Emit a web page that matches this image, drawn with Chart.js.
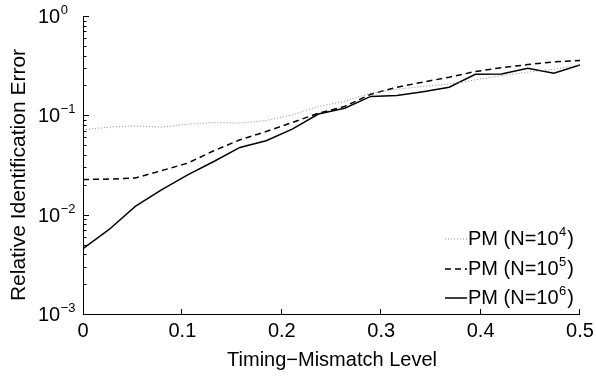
<!DOCTYPE html>
<html>
<head>
<meta charset="utf-8">
<script src="https://cdn.jsdelivr.net/npm/chart.js@4.4.0/dist/chart.umd.min.js"></script>
<style>
html,body{margin:0;padding:0;background:#fff;}
#wrap{width:596px;height:379px;position:relative;}
</style>
</head>
<body>
<div id="wrap"><canvas id="c" width="596" height="379"></canvas></div>
<script>
// Timing-mismatch levels (x)
const mismatchLevels = [0, 0.0263, 0.0526, 0.0789, 0.1053, 0.1316, 0.1579, 0.1842, 0.2105, 0.2368,
  0.2632, 0.2895, 0.3158, 0.3421, 0.3684, 0.3947, 0.4211, 0.4474, 0.4737, 0.5];
// Relative identification error for each N
const errN1e4 = [0.0715, 0.076, 0.0784, 0.076, 0.0815, 0.0847, 0.0835, 0.0887, 0.101, 0.123,
  0.138, 0.167, 0.183, 0.195, 0.207, 0.227, 0.251, 0.272, 0.291, 0.322];
const errN1e5 = [0.0226, 0.0228, 0.0234, 0.0277, 0.033, 0.044, 0.0567, 0.0687, 0.0847, 0.105,
  0.123, 0.163, 0.192, 0.216, 0.242, 0.276, 0.302, 0.324, 0.345, 0.356];
const errN1e6 = [0.00455, 0.0071, 0.0121, 0.0178, 0.0252, 0.0343, 0.0475, 0.0555, 0.0726, 0.103,
  0.118, 0.155, 0.158, 0.173, 0.192, 0.259, 0.261, 0.298, 0.266, 0.322];
// Axis ticks
const xTicks = [0, 0.1, 0.2, 0.3, 0.4, 0.5];
const yDecades = [0, -1, -2, -3];
// Labels
const seriesNames = ["PM (N=10", "PM (N=10", "PM (N=10"];
const seriesExps = ["4", "5", "6"];
const xTitle = "Timing\u2212Mismatch Level";
const yTitle = "Relative Identification Error";

const FONT = '"Liberation Sans", Arial, Helvetica, sans-serif';

const styles = [
  {color: '#8c8c8c', width: 1, dash: [1, 2]},
  {color: '#000000', width: 1.5, dash: [6, 4]},
  {color: '#000000', width: 1.5, dash: []}
];
const seriesData = [errN1e4, errN1e5, errN1e6];

function pts(arr){ return mismatchLevels.map((x, i) => ({x: x, y: arr[i]})); }

const decor = {
  id: 'decor',
  beforeDraw(chart){
    const ctx = chart.ctx;
    ctx.save(); ctx.fillStyle = '#fff'; ctx.fillRect(0, 0, chart.width, chart.height); ctx.restore();
  },
  afterDraw(chart){
    const ctx = chart.ctx;
    const xs = chart.scales.x, ys = chart.scales.y;
    const L = xs.left, R = xs.right, T = ys.top, B = ys.bottom;
    ctx.save();
    ctx.strokeStyle = '#000'; ctx.lineWidth = 1; ctx.setLineDash([]);
    // axis lines
    ctx.beginPath();
    ctx.moveTo(L + 0.5, T); ctx.lineTo(L + 0.5, B + 0.5); ctx.lineTo(R, B + 0.5);
    ctx.stroke();
    // x ticks (inward)
    ctx.beginPath();
    xTicks.forEach(v => {
      const px = Math.round(xs.getPixelForValue(v)) - 0.5;
      if (v > 0) { ctx.moveTo(px, B); ctx.lineTo(px, B - 5); }
    });
    // y ticks
    yDecades.forEach(d => {
      const py = Math.round(ys.getPixelForValue(Math.pow(10, d))) + 0.5;
      ctx.moveTo(L, py); ctx.lineTo(L + 6, py);
      if (d > -3) {
        for (let m = 2; m <= 9; m++) {
          const v = m * Math.pow(10, d - 1);
          const p = Math.round(ys.getPixelForValue(v)) + 0.5;
          ctx.moveTo(L, p); ctx.lineTo(L + 3.5, p);
        }
      }
    });
    ctx.stroke();

    ctx.fillStyle = '#000';
    // x tick labels
    ctx.font = '20px ' + FONT;
    ctx.textAlign = 'center'; ctx.textBaseline = 'middle';
    xTicks.forEach(v => {
      ctx.fillText(String(v), xs.getPixelForValue(v), B + 17);
    });
    // y tick labels with superscripts
    yDecades.forEach(d => {
      const py = ys.getPixelForValue(Math.pow(10, d));
      ctx.font = '20px ' + FONT; ctx.textAlign = 'left'; ctx.textBaseline = 'middle';
      ctx.fillText('10', 38, py + 1.5);
      const w = ctx.measureText('10').width;
      ctx.font = '13px ' + FONT;
      ctx.fillText(d === 0 ? '0' : '\u2212' + Math.abs(d), 38 + w + 0.5, py - 5.5);
    });
    // axis titles
    ctx.font = '20px ' + FONT;
    ctx.textAlign = 'center'; ctx.textBaseline = 'middle';
    ctx.fillText(xTitle, (L + R) / 2 + 0.5, 360);
    ctx.save();
    ctx.font = '21px ' + FONT;
    ctx.translate(19, 175);
    ctx.rotate(-Math.PI / 2);
    ctx.fillText(yTitle, 0, 0);
    ctx.restore();

    // legend
    const rows = [238.5, 268.5, 297.5];
    rows.forEach((ry, i) => {
      const st = styles[i];
      ctx.save();
      ctx.strokeStyle = st.color; ctx.lineWidth = st.width; ctx.setLineDash(st.dash);
      ctx.beginPath(); ctx.moveTo(445, ry + 0.5); ctx.lineTo(467, ry + 0.5); ctx.stroke();
      ctx.restore();
      ctx.font = '20px ' + FONT; ctx.textAlign = 'left'; ctx.textBaseline = 'middle';
      ctx.fillText(seriesNames[i], 468, ry + 1);
      let w = ctx.measureText(seriesNames[i]).width;
      ctx.font = '13px ' + FONT;
      ctx.fillText(seriesExps[i], 468 + w + 0.5, ry - 6);
      const w2 = ctx.measureText(seriesExps[i]).width;
      ctx.font = '20px ' + FONT;
      ctx.fillText(')', 468 + w + w2 + 1.5, ry + 1);
    });
    ctx.restore();
  }
};

new Chart(document.getElementById('c'), {
  type: 'line',
  data: {
    datasets: seriesData.map((arr, i) => ({
      label: seriesNames[i] + seriesExps[i] + ')',
      data: pts(arr),
      borderColor: styles[i].color,
      borderWidth: styles[i].width,
      borderDash: styles[i].dash,
      pointRadius: 0,
      fill: false,
      tension: 0
    }))
  },
  options: {
    responsive: false,
    animation: false,
    devicePixelRatio: 1,
    layout: {padding: {left: 83, right: 16, top: 16, bottom: 65}},
    plugins: {legend: {display: false}, tooltip: {enabled: false}},
    scales: {
      x: {type: 'linear', min: 0, max: 0.5, display: false},
      y: {type: 'logarithmic', min: 0.001, max: 1, display: false}
    }
  },
  plugins: [decor]
});
</script>
</body>
</html>
